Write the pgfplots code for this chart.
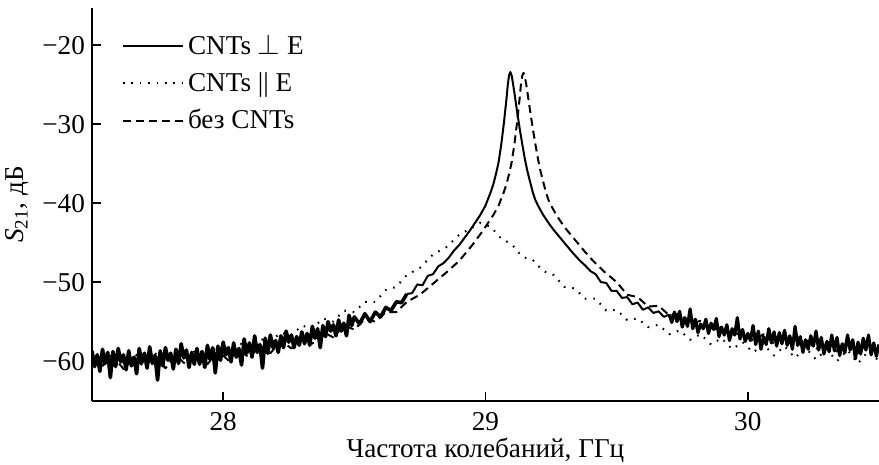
\documentclass[border=0pt]{standalone}
\usepackage{fontspec}
\setmainfont{Liberation Serif}
\usepackage{pgfplots}
\pgfplotsset{compat=1.18}
\usetikzlibrary{calc}

\begin{document}
\begin{tikzpicture}[font=\fontsize{13.6pt}{16pt}\selectfont]
\begin{axis}[
  scale only axis, width=393.5pt, height=196.5pt,
  xmin=27.5, xmax=30.5, ymin=-65.05, ymax=-15.3,
  axis lines=left, axis line style={-, line width=0.8pt},
  tick align=inside, major tick length=4.5pt,
  tick style={line width=0.8pt, black},
  xtick={28,29,30}, xticklabels={28,29,30},
  xticklabel style={yshift=-2pt},
  ytick={-60,-50,-40,-30,-20}, yticklabels={−60,−50,−40,−30,−20},
  xlabel={Частота колебаний, ГГц},
  xlabel style={at={(axis description cs:0.5,0)}, anchor=base, yshift=-28.5pt},
  ylabel={\textit{S}\textsubscript{21}, дБ},
  legend style={draw=none, fill=none, at={(0.03,0.955)}, anchor=north west,
    row sep=3.6pt, font=\fontsize{13.6pt}{16pt}\selectfont},
  legend cell align=left,
  legend image code/.code={\draw[#1] (0pt,0pt) -- (30pt,0pt);},
  every axis plot/.append style={line width=1pt, line join=round, black},
]
% CNTs perpendicular to E: noisy low-frequency wing
\addplot[solid, line width=1.8pt, forget plot] coordinates {
(27.50,-58.7)(27.51,-60.7)(27.52,-59.2)(27.53,-61.3)(27.54,-58.5)(27.55,-60.3)(27.56,-58.9)(27.57,-62.1)(27.58,-58.8)(27.59,-60.7)
(27.60,-58.4)(27.61,-60.1)(27.62,-59.2)(27.63,-61.1)(27.64,-58.7)(27.65,-60.6)(27.66,-59.5)(27.67,-61.6)(27.68,-58.4)(27.69,-60.2)
(27.70,-59.0)(27.71,-60.9)(27.72,-58.2)(27.73,-60.3)(27.74,-59.3)(27.75,-62.4)(27.76,-58.7)(27.77,-60.6)(27.78,-58.3)(27.79,-59.9)
(27.80,-59.0)(27.81,-61.0)(27.82,-58.5)(27.83,-60.3)(27.84,-57.8)(27.85,-59.6)(27.86,-58.6)(27.87,-60.8)(27.88,-58.9)(27.89,-60.4)
(27.90,-58.4)(27.91,-60.4)(27.92,-58.8)(27.93,-60.8)(27.94,-58.0)(27.95,-59.8)(27.96,-58.3)(27.97,-61.5)(27.98,-58.1)(27.99,-59.9)
(28.00,-57.6)(28.01,-59.2)(28.02,-58.3)(28.03,-60.1)(28.04,-57.7)(28.05,-59.5)(28.06,-58.4)(28.07,-60.5)(28.08,-57.2)(28.09,-59.0)
(28.10,-57.7)(28.11,-59.5)(28.12,-56.8)(28.13,-58.9)(28.14,-57.9)(28.15,-60.9)(28.16,-57.1)(28.17,-59.0)(28.18,-56.7)(28.19,-58.3)
(28.20,-57.4)(28.21,-58.9)(28.22,-56.8)(28.23,-58.3)(28.24,-56.2)(28.25,-57.6)(28.26,-56.7)(28.27,-58.3)(28.28,-56.9)(28.29,-58.0)
(28.30,-56.3)(28.31,-57.8)(28.32,-56.5)(28.33,-58.0)(28.34,-55.6)(28.35,-57.1)(28.36,-55.9)(28.37,-58.3)(28.38,-55.5)(28.39,-56.9)
(28.40,-55.0)(28.41,-56.2)(28.42,-55.4)(28.43,-56.8)(28.44,-54.8)(28.45,-56.2)(28.46,-55.2)(28.47,-56.8)(28.48,-54.2)(28.49,-55.5)
(28.50,-54.4)(28.52,-55.3)(28.54,-54.0)(28.56,-55.0)(28.58,-53.8)(28.60,-54.4)(28.62,-53.2)(28.64,-53.6)(28.66,-52.5)(28.68,-52.6)
(28.70,-51.5)
};
% CNTs perpendicular to E: resonance
\addplot[solid] coordinates {
(28.70,-51.5)(28.72,-51.4)(28.74,-50.3)(28.76,-50.4)(28.78,-49.2)(28.80,-49.0)(28.82,-48.0)(28.84,-47.6)(28.86,-46.9)(28.88,-46.0)
(28.90,-45.3)(28.92,-44.4)(28.94,-43.5)(28.96,-42.5)(28.98,-41.5)(29.00,-40.3)(29.02,-38.6)(29.03,-37.6)(29.04,-36.3)(29.05,-34.8)
(29.06,-32.6)(29.07,-29.9)(29.08,-26.8)(29.085,-25.0)(29.09,-23.8)(29.095,-23.4)(29.10,-23.9)(29.105,-24.9)(29.11,-26.0)(29.12,-28.3)
(29.13,-30.5)(29.14,-32.5)(29.15,-34.4)(29.16,-36.0)(29.17,-37.3)(29.18,-38.6)(29.19,-39.6)(29.20,-40.3)(29.22,-41.5)(29.24,-42.5)
(29.26,-43.4)(29.28,-44.2)(29.30,-45.0)(29.33,-46.2)(29.36,-47.3)(29.38,-47.9)(29.40,-48.6)(29.42,-49.0)(29.44,-50.0)(29.46,-50.1)
(29.48,-51.1)(29.50,-51.1)(29.52,-52.0)(29.54,-51.9)(29.56,-52.8)(29.58,-52.6)(29.60,-53.5)(29.62,-53.2)(29.64,-53.9)(29.66,-53.7)
(29.68,-54.4)(29.70,-54.1)
};
\addlegendentry{CNTs $\perp$ E}
% CNTs perpendicular to E: noisy high-frequency wing
\addplot[solid, line width=1.6pt, forget plot] coordinates {
(29.70,-54.1)(29.71,-55.1)(29.72,-53.8)(29.73,-55.0)(29.74,-53.7)(29.75,-55.7)(29.76,-54.5)(29.77,-55.6)(29.78,-53.4)
(29.79,-55.9)(29.80,-54.7)(29.81,-56.4)(29.82,-55.3)(29.83,-55.9)(29.84,-54.7)(29.85,-56.5)(29.86,-55.2)(29.87,-56.0)(29.88,-54.6)
(29.89,-56.9)(29.90,-55.7)(29.91,-56.7)(29.92,-55.4)(29.93,-57.4)(29.94,-55.9)(29.95,-56.7)(29.96,-54.5)(29.97,-57.2)(29.98,-56.0)
(29.99,-57.5)(30.00,-56.5)(30.01,-57.4)(30.02,-55.5)(30.03,-57.9)(30.04,-56.2)(30.05,-58.5)(30.06,-56.9)(30.07,-57.9)(30.08,-55.9)
(30.09,-57.7)(30.10,-56.3)(30.11,-58.1)(30.12,-56.4)(30.13,-57.8)(30.14,-56.1)(30.15,-58.0)(30.16,-56.8)(30.17,-58.5)(30.18,-55.6)
(30.19,-58.0)(30.20,-56.9)(30.21,-58.9)(30.22,-57.3)(30.23,-58.5)(30.24,-56.8)(30.25,-58.1)(30.26,-56.2)(30.27,-58.6)(30.28,-57.0)
(30.29,-59.1)(30.30,-57.6)(30.31,-58.8)(30.32,-56.7)(30.33,-58.7)(30.34,-57.0)(30.35,-59.3)(30.36,-57.8)(30.37,-58.9)(30.38,-56.7)
(30.39,-58.6)(30.40,-57.3)(30.41,-59.7)(30.42,-57.6)(30.43,-59.1)(30.44,-57.1)(30.45,-58.6)(30.46,-56.7)(30.47,-59.2)(30.48,-57.7)
(30.49,-59.4)(30.50,-57.9)
};
% CNTs parallel to E
\addplot[dash pattern=on 0.8pt off 3.4pt] coordinates {
(27.50,-59.0)(27.54,-60.3)(27.58,-59.1)(27.62,-60.2)(27.66,-59.0)(27.70,-60.1)(27.74,-59.0)(27.78,-60.0)(27.82,-58.7)(27.86,-59.7)
(27.90,-58.5)(27.94,-59.3)(27.98,-58.1)(28.02,-58.9)(28.06,-57.7)(28.10,-58.3)(28.14,-57.2)(28.18,-57.5)(28.22,-56.4)(28.26,-56.8)
(28.30,-55.5)(28.34,-55.9)(28.38,-54.6)(28.42,-55.0)(28.46,-53.6)(28.50,-53.8)(28.54,-52.5)(28.58,-52.5)(28.62,-51.0)(28.66,-50.6)
(28.70,-49.1)(28.75,-48.2)(28.80,-46.5)(28.85,-45.6)(28.90,-44.0)(28.95,-43.1)(28.98,-42.5)(29.02,-43.0)(29.06,-44.5)(29.10,-45.2)
(29.14,-46.8)(29.18,-47.2)(29.22,-48.6)(29.26,-49.1)(29.30,-50.6)(29.34,-50.8)(29.38,-52.1)(29.42,-52.1)(29.46,-53.6)(29.50,-53.5)
(29.54,-54.8)(29.58,-54.6)(29.62,-55.7)(29.66,-55.4)(29.70,-56.6)(29.74,-56.1)(29.78,-57.3)(29.82,-56.6)(29.86,-57.9)(29.90,-57.1)
(29.94,-58.5)(29.98,-57.6)(30.02,-58.9)(30.06,-57.9)(30.10,-59.3)(30.14,-58.1)(30.18,-59.6)(30.22,-58.3)(30.26,-59.8)(30.30,-58.5)
(30.34,-60.0)(30.38,-58.6)(30.42,-60.3)(30.46,-58.7)(30.50,-60.0)
};
\addlegendentry{CNTs || E}
% without CNTs
\addplot[dash pattern=on 4pt off 2.5pt] coordinates {
(27.50,-59.4)(27.54,-60.6)(27.58,-59.3)(27.62,-61.0)(27.66,-59.5)(27.70,-60.8)(27.74,-59.2)(27.78,-60.9)(27.82,-59.3)(27.86,-60.5)
(27.90,-59.0)(27.94,-60.4)(27.98,-58.7)(28.02,-59.9)(28.06,-58.5)(28.10,-59.6)(28.14,-58.0)(28.18,-59.0)(28.22,-57.4)(28.26,-58.4)
(28.30,-57.0)(28.34,-57.8)(28.38,-56.3)(28.42,-57.0)(28.46,-55.5)(28.50,-56.0)(28.54,-54.7)(28.58,-55.0)(28.62,-53.8)(28.66,-53.8)
(28.70,-52.5)(28.75,-51.6)(28.80,-50.2)(28.85,-48.8)(28.90,-47.3)(28.95,-45.3)(28.97,-44.4)(28.99,-43.5)(29.01,-42.5)(29.03,-41.5)
(29.05,-40.3)(29.07,-38.6)(29.08,-37.6)(29.09,-36.3)(29.10,-34.8)(29.11,-32.6)(29.12,-29.9)(29.13,-26.8)(29.135,-25.0)(29.14,-23.9)
(29.145,-23.5)(29.15,-24.0)(29.155,-24.9)(29.16,-26.0)(29.17,-28.3)(29.18,-30.5)(29.19,-32.5)(29.20,-34.4)(29.21,-36.0)(29.22,-37.3)
(29.23,-38.6)(29.24,-39.6)(29.25,-40.3)(29.27,-41.5)(29.29,-42.5)(29.31,-43.4)(29.33,-44.2)(29.35,-45.0)(29.38,-46.2)(29.41,-47.3)
(29.45,-48.6)(29.50,-50.0)(29.54,-51.6)(29.58,-51.9)(29.62,-53.1)(29.66,-53.0)(29.70,-54.2)(29.74,-54.0)(29.78,-55.3)(29.82,-54.9)
(29.86,-56.1)(29.90,-55.7)(29.94,-56.9)(29.98,-56.2)(30.02,-57.4)(30.06,-56.6)(30.10,-57.8)(30.14,-56.9)(30.18,-58.3)(30.22,-57.2)
(30.26,-58.5)(30.30,-57.4)(30.34,-58.8)(30.38,-57.6)(30.42,-59.0)(30.46,-57.7)(30.50,-58.9)
};
\addlegendentry{без CNTs}
\end{axis}
\pgfresetboundingbox
\path[use as bounding box] ($(current axis.south west)+(-46pt,-31.8pt)$) rectangle ($(current axis.north east)+(0,4pt)$);
\end{tikzpicture}
\end{document}
